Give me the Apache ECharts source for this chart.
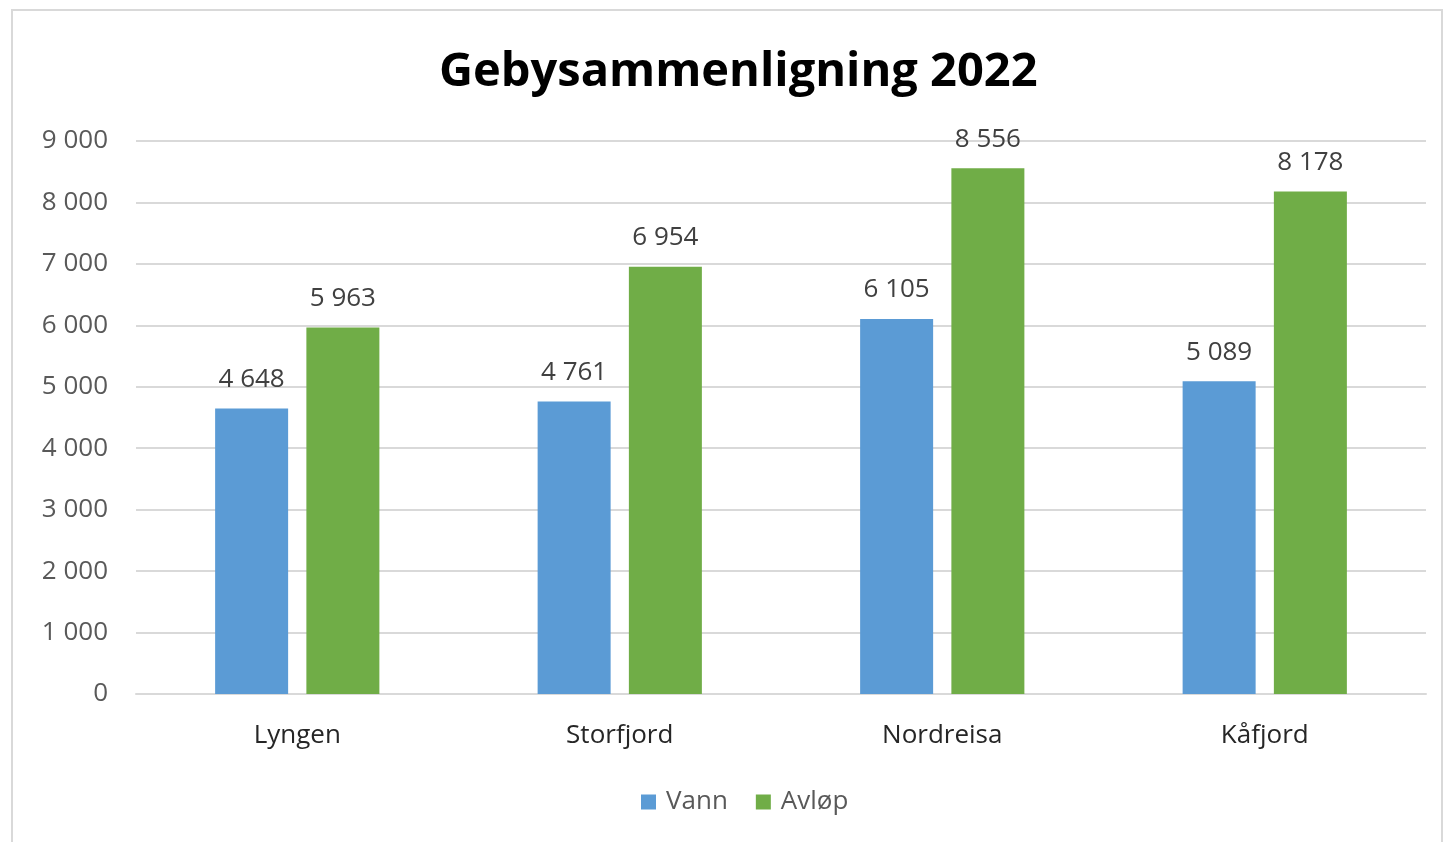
<!DOCTYPE html>
<html>
<head>
<meta charset="utf-8">
<script src="https://cdn.jsdelivr.net/npm/echarts@6/dist/echarts.min.js"></script>
<style>
  html, body { margin: 0; padding: 0; background: #fff; }
  #frame { position: absolute; left: 11px; top: 9px; width: 1428px; height: 860px; border: 2px solid #d9d9d9; }
  #chart { position: absolute; left: 0; top: 0; width: 1443px; height: 842px; }
</style>
</head>
<body>
<div id="frame"></div>
<div id="chart"></div>
<script>
  // kommuner og gebyrer (kr)
  var kommuner = ['Lyngen', 'Storfjord', 'Nordreisa', 'Kåfjord'];
  var vann = [4648, 4761, 6105, 5089];
  var avlop = [5963, 6954, 8556, 8178];

  function fmt(v) {
    return String(v).replace(/\B(?=(\d{3})+(?!\d))/g, ' ');
  }

  var myChart = echarts.init(document.getElementById('chart'));
  var font = 'Open Sans';

  var option = {
    animation: false,
    title: {
      text: 'Gebysammenligning 2022',
      left: 434,
      top: 44,
      textStyle: { fontFamily: font, fontWeight: 'bold', fontSize: 47, color: '#000' }
    },
    legend: {
      data: ['Vann', 'Avløp'],
      bottom: 22,
      left: 636,
      itemWidth: 15,
      itemHeight: 15,
      itemGap: 28,
      icon: 'rect',
      textStyle: { fontFamily: font, fontSize: 26, color: '#595959', padding: [0, 0, 0, 5] }
    },
    grid: { left: 136, right: 17, top: 141, bottom: 148 },
    xAxis: {
      type: 'category',
      data: kommuner,
      axisLine: { lineStyle: { color: '#d9d9d9', width: 2 } },
      axisTick: { show: false },
      axisLabel: { fontFamily: font, fontSize: 26, color: '#262626', margin: 29 }
    },
    yAxis: {
      type: 'value',
      min: 0,
      max: 9000,
      interval: 1000,
      axisLine: { show: false },
      axisTick: { show: false },
      splitLine: { lineStyle: { color: '#d9d9d9', width: 2 } },
      axisLabel: {
        fontFamily: font, fontSize: 26, color: '#595959', margin: 28,
        formatter: fmt
      }
    },
    series: [
      {
        name: 'Vann',
        type: 'bar',
        data: vann,
        barWidth: 73,
        barGap: '25%',
        itemStyle: { color: '#5b9bd5' },
        label: {
          show: true, position: 'top', distance: 16,
          fontFamily: font, fontSize: 26, color: '#404040',
          formatter: function (p) { return fmt(p.value); }
        }
      },
      {
        name: 'Avløp',
        type: 'bar',
        data: avlop,
        barWidth: 73,
        barGap: '25%',
        itemStyle: { color: '#70ad47' },
        label: {
          show: true, position: 'top', distance: 16,
          fontFamily: font, fontSize: 26, color: '#404040',
          formatter: function (p) { return fmt(p.value); }
        }
      }
    ]
  };

  myChart.setOption(option);
</script>
</body>
</html>
